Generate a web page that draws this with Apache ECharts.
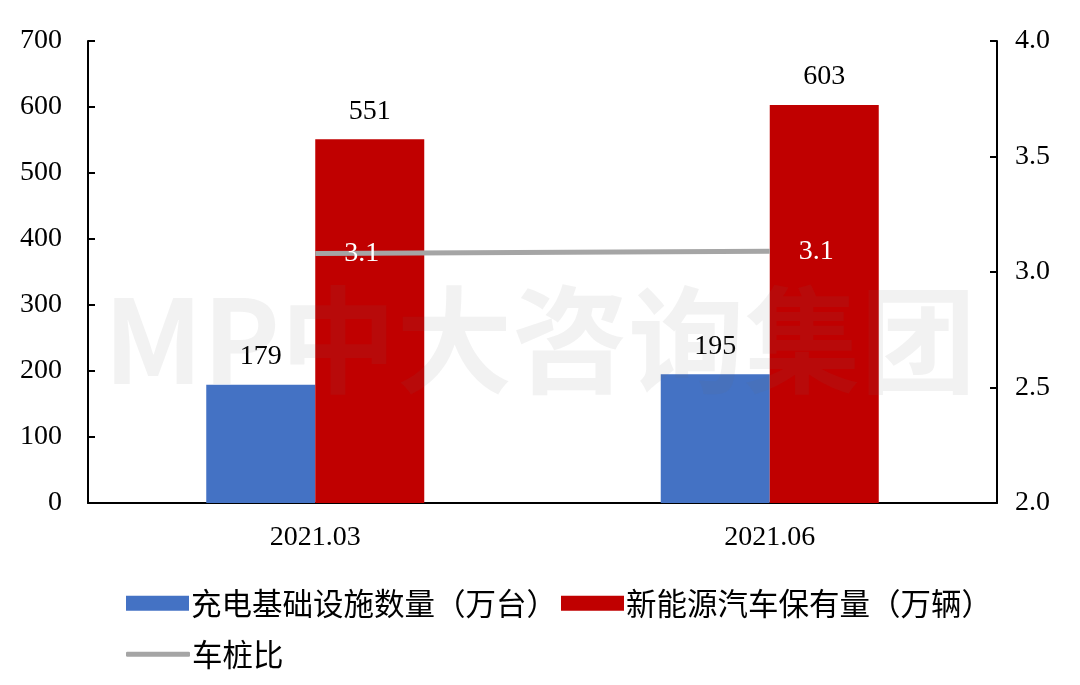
<!DOCTYPE html>
<html><head><meta charset="utf-8">
<script src="https://cdn.jsdelivr.net/npm/echarts@6/dist/echarts.min.js"></script>
<style>html,body{margin:0;padding:0;background:#fff}#c{width:1080px;height:685px}</style>
</head><body><div id="c"></div>
<script>
const categories = ['2021.03', '2021.06'];
const chargers = [179, 195];
const evs = [551, 603];
const ratio = [3.08, 3.09];
const leftTicks = {min: 0, max: 700, interval: 100};
const rightTicks = {min: 2.0, max: 4.0, interval: 0.5};

const serif = '"Liberation Serif", "Times New Roman", serif';
const cjk = '"Noto Sans CJK SC", sans-serif';
const chart = echarts.init(document.getElementById('c'));
chart.setOption({
  animation: false,
  backgroundColor: '#fff',
  grid: {left: 88, right: 83, top: 41, bottom: 182},
  graphic: [{
    type: 'text', left: 'center', top: 282, z: 100, silent: true,
    style: {text: 'MP中大咨询集团', font: 'bold 116px "Noto Sans CJK SC", sans-serif', fill: 'rgba(110,110,110,0.09)'}
  }],
  legend: [
    {data: ['充电基础设施数量（万台）', '新能源汽车保有量（万辆）'], left: 121, top: 583, icon: 'rect',
     itemWidth: 63, itemHeight: 15, itemGap: 4,
     textStyle: {fontFamily: cjk, fontSize: 30.5, color: '#000', padding: [0, 0, 0, -3]}},
    {data: [{name: '车桩比', itemStyle: {color: '#A5A5A5', opacity: 1}}], left: 121, top: 634, icon: 'roundRect',
     itemWidth: 64, itemHeight: 5,
     textStyle: {fontFamily: cjk, fontSize: 30.5, color: '#000', padding: [0, 0, 0, -3]}}
  ],
  xAxis: {
    type: 'category', data: categories,
    axisLine: {lineStyle: {color: '#000', width: 2}},
    axisTick: {show: false},
    axisLabel: {fontFamily: serif, fontSize: 28, color: '#000', margin: 21}
  },
  yAxis: [
    {type: 'value', min: leftTicks.min, max: leftTicks.max, interval: leftTicks.interval,
     splitLine: {show: false},
     axisLine: {show: true, lineStyle: {color: '#000', width: 2}},
     axisTick: {show: true, inside: true, length: 7, lineStyle: {color: '#000', width: 2}},
     axisLabel: {fontFamily: serif, fontSize: 28, color: '#000', margin: 26}},
    {type: 'value', min: rightTicks.min, max: rightTicks.max, interval: rightTicks.interval,
     splitLine: {show: false},
     axisLine: {show: true, lineStyle: {color: '#000', width: 2}},
     axisTick: {show: true, inside: true, length: 7, lineStyle: {color: '#000', width: 2}},
     axisLabel: {fontFamily: serif, fontSize: 28, color: '#000', margin: 18, formatter: v => v.toFixed(1)}}
  ],
  series: [
    {name: '充电基础设施数量（万台）', type: 'bar', data: chargers, barWidth: 109, barGap: '0%',
     itemStyle: {color: '#4472C4'},
     label: {show: true, position: 'top', distance: 14, fontFamily: serif, fontSize: 28, color: '#000'}},
    {name: '新能源汽车保有量（万辆）', type: 'bar', data: evs, barWidth: 109, barGap: '0%',
     itemStyle: {color: '#C00000'},
     label: {show: true, position: 'top', distance: 14, fontFamily: serif, fontSize: 28, color: '#000'}},
    {name: '车桩比', type: 'line', yAxisIndex: 1, data: ratio, symbol: 'circle', symbolSize: 2,
     showSymbol: true, z: 5,
     lineStyle: {color: '#A5A5A5', width: 5},
     itemStyle: {color: 'rgba(165,165,165,0)'},
     label: {show: true, position: 'right', distance: 28, fontFamily: serif, fontSize: 28, color: '#fff',
       formatter: p => p.value.toFixed(1)}}
  ]
});
</script></body></html>
